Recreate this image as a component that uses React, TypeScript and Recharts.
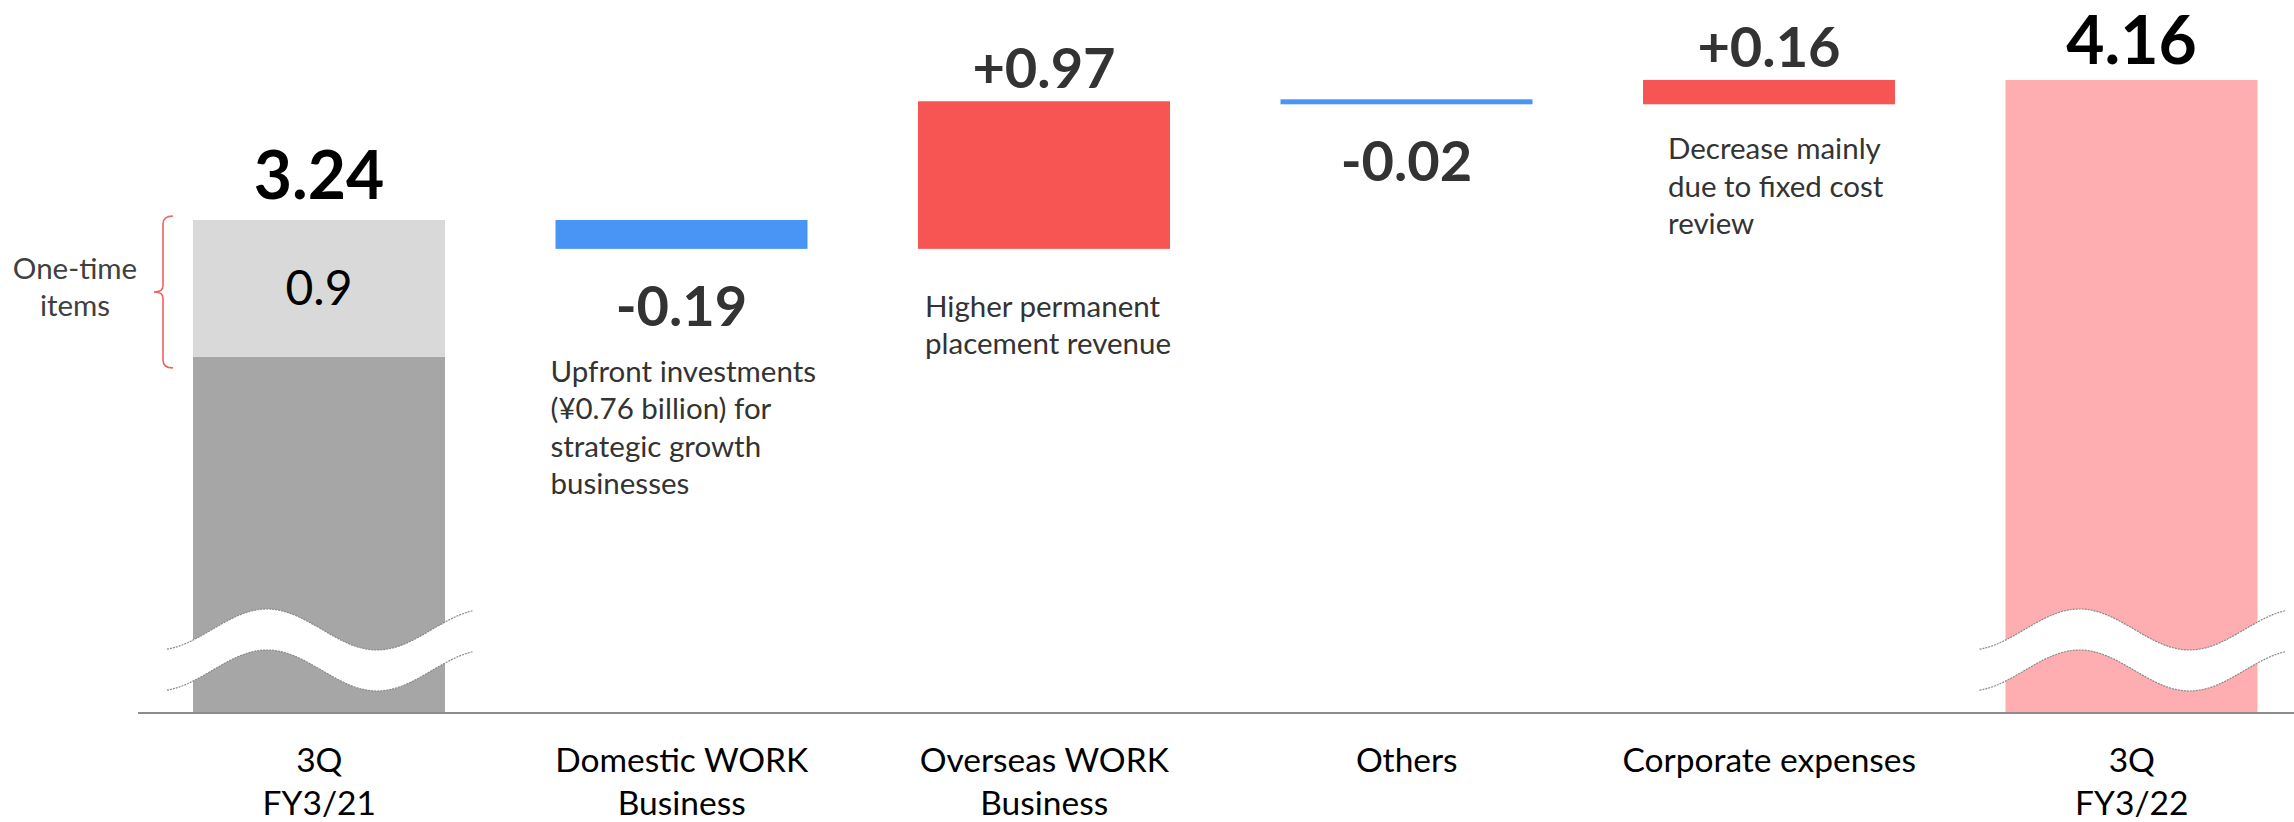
import React from 'react';
import { BarChart, Bar, XAxis, YAxis } from 'recharts';

// ---------- data ----------
const categories = ['3Q\nFY3/21', 'Domestic WORK\nBusiness', 'Overseas WORK\nBusiness', 'Others', 'Corporate expenses', '3Q\nFY3/22'];
const startTotal = 3.24;
const oneTimeItems = 0.9;
const changes = [-0.19, 0.97, -0.02, 0.16]; // categories 1..4
const endTotal = 4.16;
const notes: string[][] = [
  [],
  ['Upfront investments', '(¥0.76 billion) for', 'strategic growth', 'businesses'],
  ['Higher permanent', 'placement revenue'],
  [],
  ['Decrease mainly', 'due to fixed cost', 'review'],
  [],
];
const oneTimeLabel = ['One-time', 'items'];

// ---------- build waterfall rows ----------
let running = startTotal;
const rows = categories.map((name, i) => {
  if (i === 0) {
    return { name, core: startTotal - oneTimeItems, total: 0, base: 0, oneTime: oneTimeItems, delta: 0, change: 0 };
  }
  if (i === categories.length - 1) {
    return { name, core: 0, total: endTotal, base: 0, oneTime: 0, delta: 0, change: 0 };
  }
  const c = changes[i - 1];
  const next = running + c;
  const row = { name, core: 0, total: 0, base: Math.min(running, next), oneTime: 0, delta: Math.abs(c), change: c };
  running = next;
  return row;
});

// ---------- styles ----------
const FONT = "Lato, 'Open Sans', sans-serif";
const C_DARK = '#A6A6A6';
const C_LIGHT = '#D9D9D9';
const C_UP = '#F75553';
const C_DOWN = '#4895F5';
const C_END = '#FEADB0';
const TXT = '#333333';
const NOTE_SIZE = 29.5;

// note layout relative to bar (left offset, first baseline offset from bar bottom)
const noteLayout: Record<number, { dx: number; dy: number }> = {
  1: { dx: -5, dy: 133 },
  2: { dx: 7, dy: 68 },
  4: { dx: 25, dy: 55 },
};

const fmt = (v: number) => (v > 0 ? '+' : '-') + Math.abs(v).toFixed(2);

function BreakMark({ cx, b }: { cx: number; b: number }) {
  const curve = (dy: number) => {
    const pts: [number, number][] = [];
    for (let dx = -152; dx <= 156; dx += 3) {
      const h = 83.5 + 20.5 * Math.cos((Math.PI * (dx + 52)) / 110);
      pts.push([cx + dx, b - h + dy]);
    }
    return pts;
  };
  const up = curve(0);
  const lo = curve(41);
  const toD = (p: [number, number][]) => p.map((q, k) => (k ? 'L' : 'M') + q[0].toFixed(1) + ',' + q[1].toFixed(1)).join(' ');
  const band = toD(up) + ' ' + lo.slice().reverse().map((q) => 'L' + q[0].toFixed(1) + ',' + q[1].toFixed(1)).join(' ') + ' Z';
  return (
    <g>
      <path d={band} fill="#FFFFFF" stroke="none" />
      <path d={toD(up)} fill="none" stroke="#8A8A8A" strokeWidth={1.2} strokeDasharray="2 1" />
      <path d={toD(lo)} fill="none" stroke="#8A8A8A" strokeWidth={1.2} strokeDasharray="2 1" />
    </g>
  );
}

const CoreShape = (p: any) => {
  const { x, y, width, height, payload } = p;
  if (!height || height <= 0 || !payload || !payload.core) return <g />;
  return (
    <g>
      <rect x={x} y={y} width={width} height={height} fill={C_DARK} />
      <BreakMark cx={x + width / 2} b={y + height} />
    </g>
  );
};

const TotalShape = (p: any) => {
  const { x, y, width, height, payload } = p;
  if (!height || height <= 0 || !payload || !payload.total) return <g />;
  const cx = x + width / 2;
  return (
    <g>
      <rect x={x} y={y} width={width} height={height} fill={C_END} />
      <BreakMark cx={cx} b={y + height} />
      <text x={cx} y={y - 16} textAnchor="middle" fontFamily={FONT} fontWeight={700} fontSize={66} fill="#000">
        {endTotal.toFixed(2)}
      </text>
    </g>
  );
};

const OneTimeShape = (p: any) => {
  const { x, y, width, height, payload } = p;
  if (!height || height <= 0 || !payload || !payload.oneTime) return <g />;
  const cx = x + width / 2;
  const top = y - 4;
  const bot = y + height + 11;
  const mid = (top + bot) / 2;
  const tipX = x - 20;
  const lineX = x - 30;
  const pointX = x - 39;
  const brace = `M${tipX},${top} Q${lineX},${top} ${lineX},${top + 8} L${lineX},${mid - 6} Q${lineX},${mid} ${pointX},${mid} Q${lineX},${mid} ${lineX},${mid + 6} L${lineX},${bot - 8} Q${lineX},${bot} ${tipX},${bot}`;
  return (
    <g>
      <rect x={x} y={y} width={width} height={height} fill={C_LIGHT} />
      <text x={cx} y={y + height / 2 + 17} textAnchor="middle" fontFamily={FONT} fontSize={48} fill="#000">
        {oneTimeItems.toFixed(1)}
      </text>
      <text x={cx} y={y - 21} textAnchor="middle" fontFamily={FONT} fontWeight={700} fontSize={66} fill="#000">
        {startTotal.toFixed(2)}
      </text>
      <path d={brace} fill="none" stroke="#F06262" strokeWidth={1.6} />
      {oneTimeLabel.map((t, k) => (
        <text key={k} x={x - 118} y={mid - 13 + k * 37} textAnchor="middle" fontFamily={FONT} fontSize={NOTE_SIZE} fill="#404040">
          {t}
        </text>
      ))}
    </g>
  );
};

const DeltaShape = (p: any) => {
  const { x, y, width, height, index, payload } = p;
  if (!height || height <= 0 || !payload || !payload.delta) return <g />;
  const change = payload.change as number;
  const cx = x + width / 2;
  const bottom = y + height;
  const lay = noteLayout[index];
  const lines = notes[index] || [];
  return (
    <g>
      <rect x={x} y={y} width={width} height={height} fill={change > 0 ? C_UP : C_DOWN} />
      <text
        x={cx}
        y={change > 0 ? y - 13 : bottom + 77}
        textAnchor="middle"
        fontFamily={FONT}
        fontWeight={700}
        fontSize={56}
        fill={TXT}
      >
        {fmt(change)}
      </text>
      {lay &&
        lines.map((t, k) => (
          <text key={k} x={x + lay.dx} y={bottom + lay.dy + k * 37.5} fontFamily={FONT} fontSize={NOTE_SIZE} fill={TXT}>
            {t}
          </text>
        ))}
    </g>
  );
};

const Tick = (p: any) => {
  const { x, y, payload } = p;
  const lines = String(payload.value).split('\n');
  return (
    <g>
      {lines.map((t, k) => (
        <text key={k} x={x} y={y + 59 + k * 43} textAnchor="middle" fontFamily={FONT} fontSize={33.5} fill="#000">
          {t}
        </text>
      ))}
    </g>
  );
};

const deltaMin = (_v: any, i: number) => (rows[i] && rows[i].delta > 0 ? 5 : 0);

export default function App() {
  return (
    <div style={{ position: 'absolute', left: 0, top: 0, width: 2294, height: 822, overflow: 'hidden', background: '#fff' }}>
      <BarChart width={2313} height={822} data={rows} margin={{ top: 13, right: 0, left: 138, bottom: 0 }} barSize={252}>
        <XAxis
          dataKey="name"
          interval={0}
          height={109}
          tickLine={false}
          tickSize={0}
          tickMargin={0}
          axisLine={{ stroke: '#8C8C8C', strokeWidth: 2 }}
          tick={<Tick />}
        />
        <YAxis hide type="number" domain={[0, 4.6]} allowDataOverflow />
        <Bar dataKey="core" stackId="w" isAnimationActive={false} shape={<CoreShape />} />
        <Bar dataKey="total" stackId="w" isAnimationActive={false} shape={<TotalShape />} />
        <Bar dataKey="base" stackId="w" isAnimationActive={false} fill="transparent" />
        <Bar dataKey="oneTime" stackId="w" isAnimationActive={false} shape={<OneTimeShape />} />
        <Bar dataKey="delta" stackId="w" isAnimationActive={false} minPointSize={deltaMin as any} shape={<DeltaShape />} />
      </BarChart>
    </div>
  );
}
